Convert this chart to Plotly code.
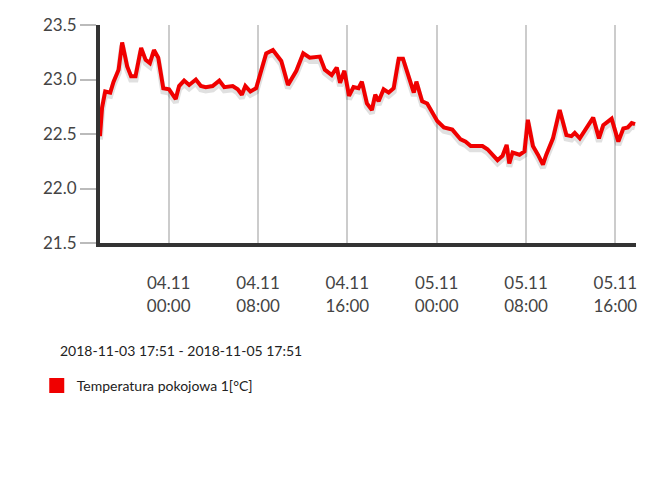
import plotly.graph_objects as go

times = ["2018-11-03 17:51","2018-11-03 18:02","2018-11-03 18:19","2018-11-03 18:46","2018-11-03 19:04","2018-11-03 19:31","2018-11-03 19:50","2018-11-03 20:17","2018-11-03 20:38","2018-11-03 21:02",
"2018-11-03 21:32","2018-11-03 21:56","2018-11-03 22:19","2018-11-03 22:41","2018-11-03 23:04","2018-11-03 23:31","2018-11-04 00:02","2018-11-04 00:38","2018-11-04 00:56","2018-11-04 01:23",
"2018-11-04 01:50","2018-11-04 02:26","2018-11-04 02:53","2018-11-04 03:19","2018-11-04 03:56","2018-11-04 04:32","2018-11-04 04:59","2018-11-04 05:44","2018-11-04 06:11","2018-11-04 06:33",
"2018-11-04 06:52","2018-11-04 07:19","2018-11-04 07:50","2018-11-04 08:17","2018-11-04 08:44","2018-11-04 09:20","2018-11-04 10:05","2018-11-04 10:41","2018-11-04 11:26","2018-11-04 12:03",
"2018-11-04 12:38","2018-11-04 13:32","2018-11-04 13:59","2018-11-04 14:36","2018-11-04 15:03","2018-11-04 15:21","2018-11-04 15:44","2018-11-04 16:09","2018-11-04 16:33","2018-11-04 17:00",
"2018-11-04 17:18","2018-11-04 17:45","2018-11-04 18:12","2018-11-04 18:30","2018-11-04 18:48","2018-11-04 19:15","2018-11-04 19:42","2018-11-04 20:09","2018-11-04 20:36","2018-11-04 20:59",
"2018-11-04 21:57","2018-11-04 22:11","2018-11-04 22:42","2018-11-04 23:09","2018-11-05 00:03","2018-11-05 00:39","2018-11-05 01:24","2018-11-05 02:09","2018-11-05 02:36","2018-11-05 03:03",
"2018-11-05 04:06","2018-11-05 04:33","2018-11-05 05:27","2018-11-05 05:54","2018-11-05 06:16","2018-11-05 06:30","2018-11-05 06:48","2018-11-05 07:25","2018-11-05 07:52","2018-11-05 08:10",
"2018-11-05 08:37","2018-11-05 09:04","2018-11-05 09:31","2018-11-05 09:49","2018-11-05 10:25","2018-11-05 11:01","2018-11-05 11:37","2018-11-05 12:04","2018-11-05 12:22","2018-11-05 12:49",
"2018-11-05 14:01","2018-11-05 14:32","2018-11-05 14:55","2018-11-05 15:40","2018-11-05 16:16","2018-11-05 16:43","2018-11-05 17:07","2018-11-05 17:28","2018-11-05 17:46"]
temps = [22.48,22.74,22.89,22.88,22.98,23.09,23.34,23.12,23.03,23.03,
23.29,23.18,23.15,23.27,23.20,22.92,22.91,22.82,22.94,22.99,
22.95,23.00,22.94,22.93,22.94,22.99,22.93,22.94,22.91,22.86,
22.94,22.89,22.92,23.09,23.24,23.27,23.17,22.95,23.08,23.24,
23.20,23.21,23.09,23.04,23.11,22.97,23.08,22.85,22.93,22.92,
22.98,22.78,22.72,22.86,22.80,22.91,22.88,22.92,23.19,23.19,
22.88,22.98,22.80,22.78,22.62,22.56,22.54,22.45,22.43,22.39,
22.39,22.36,22.26,22.30,22.40,22.23,22.33,22.31,22.34,22.63,
22.39,22.31,22.22,22.31,22.46,22.72,22.49,22.48,22.51,22.46,
22.65,22.46,22.58,22.64,22.43,22.55,22.56,22.60,22.59]

x_ticks = ["2018-11-04 00:00","2018-11-04 08:00","2018-11-04 16:00","2018-11-05 00:00","2018-11-05 08:00","2018-11-05 16:00"]
x_labels = ["04.11<br>00:00","04.11<br>08:00","04.11<br>16:00","05.11<br>00:00","05.11<br>08:00","05.11<br>16:00"]
y_ticks = [21.5, 22.0, 22.5, 23.0, 23.5]
series_name = "Temperatura pokojowa 1[°C]"
subtitle = "2018-11-03 17:51 - 2018-11-05 17:51"

fig = go.Figure()
fig.add_trace(go.Scatter(x=times, y=[v - 0.03 for v in temps], mode="lines",
                         line=dict(color="rgba(0,0,0,0.12)", width=6), hoverinfo="skip", showlegend=False))
fig.add_trace(go.Scatter(x=times, y=temps, mode="lines", line=dict(color="#f00000", width=4),
                         showlegend=False))
fig.add_trace(go.Scatter(x=[None], y=[None], mode="markers", name=series_name,
                         marker=dict(symbol="square", size=15, color="#f00000")))

fig.update_layout(
    width=654, height=478, margin=dict(l=92, r=26, t=17, b=243, autoexpand=False),
    paper_bgcolor="white", plot_bgcolor="white",
    font=dict(family="Lato", color="#444"),
    xaxis=dict(range=["2018-11-03 17:51", "2018-11-05 17:51"], tickvals=x_ticks, ticktext=x_labels,
               showgrid=True, gridcolor="#cccccc", gridwidth=2, tickfont=dict(size=17, color="#444"),
               showline=True, linecolor="#333", linewidth=4, ticks="", zeroline=False,
               ticklabelstandoff=22),
    yaxis=dict(range=[21.5, 23.5], tickvals=y_ticks, tickformat=".1f", showgrid=False,
               tickfont=dict(size=17, color="#444"), showline=True, linecolor="#333", linewidth=4,
               ticks="outside", ticklen=16, tickcolor="#bbb", tickwidth=2, zeroline=False),
    legend=dict(x=-0.118, y=-0.656, xanchor="left", yanchor="middle", font=dict(size=14, color="#222"),
                itemwidth=30, bgcolor="rgba(0,0,0,0)"),
    annotations=[dict(text=subtitle, xref="paper", yref="paper", x=-0.078, y=-0.495,
                      xanchor="left", yanchor="middle", showarrow=False, font=dict(size=14, color="#222"))],
)
fig.write_html("out.html")
